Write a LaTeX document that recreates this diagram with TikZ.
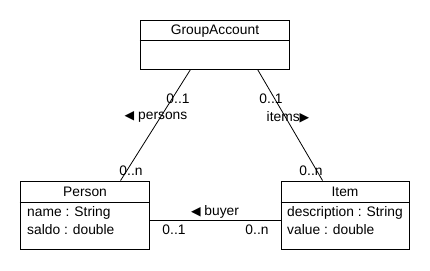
\documentclass[tikz,border=0pt]{standalone}
\usepackage{fontspec}
\setmainfont{Liberation Sans}
\newfontfamily\symfont{DejaVu Sans}
\usetikzlibrary{calc}
\newcommand{\lefttri}{{\symfont\fontsize{12.5}{13}\selectfont ◀}}
\newcommand{\righttri}{{\symfont\fontsize{12.5}{13}\selectfont ▶}}
\begin{document}
\begin{tikzpicture}[x=1pt,y=-1pt,
  box/.style={draw=black,line width=0.9pt,inner sep=0pt,fill=white},
  txt/.style={inner sep=0pt,font=\fontsize{13.8}{15}\selectfont},
  attr/.style={txt,anchor=west},
  conn/.style={draw=black,line width=0.8pt}]
\useasboundingbox[fill=white] (0,0) rectangle (430,270);
% classes
\node[box,minimum width=149pt,minimum height=49pt] (ga) at (214.5,44.5) {};
\node[box,minimum width=129pt,minimum height=68pt] (person) at (84.5,215) {};
\node[box,minimum width=128pt,minimum height=68pt] (item) at (345,215) {};
\draw[line width=0.9pt] (ga.west |- 0,40) -- (ga.east |- 0,40);
\draw[line width=0.9pt] (person.west |- 0,202) -- (person.east |- 0,202);
\draw[line width=0.9pt] (item.west |- 0,202) -- (item.east |- 0,202);
\node[txt] (gatitle) at (215,31) {GroupAccount};
\node[txt] (ptitle) at (85,192) {Person};
\node[txt] (ititle) at (345,192) {Item};
\node[attr] (pa1) at (27,213) {name : String};
\node[attr] (pa2) at (27,230) {saldo : double};
\node[attr] (ia1) at (287,213) {description : String};
\node[attr] (ia2) at (287,230) {value : double};
% associations
\draw[conn] ($(ga.south west)+(51,0)$) -- ($(person.north west)+(101,0)$);
\draw[conn] ($(ga.south west)+(118,0)$) -- ($(item.north west)+(42,0)$);
\draw[conn] (person.east |- 0,220) -- (item.west |- 0,220);
% labels
\node[txt] (l1) at (178,99) {0..1};
\node[txt] (l2) at (156,117) {\lefttri{} persons};
\node[txt] (l3) at (131,171) {0..n};
\node[txt] (l4) at (271,99) {0..1};
\node[txt] (l5) at (288,117) {items\righttri};
\node[txt] (l6) at (311,171) {0..n};
\node[txt] (l7) at (215,212) {\lefttri{} buyer};
\node[txt] (l8) at (174,230) {0..1};
\node[txt] (l9) at (257,230) {0..n};
\end{tikzpicture}
\end{document}
